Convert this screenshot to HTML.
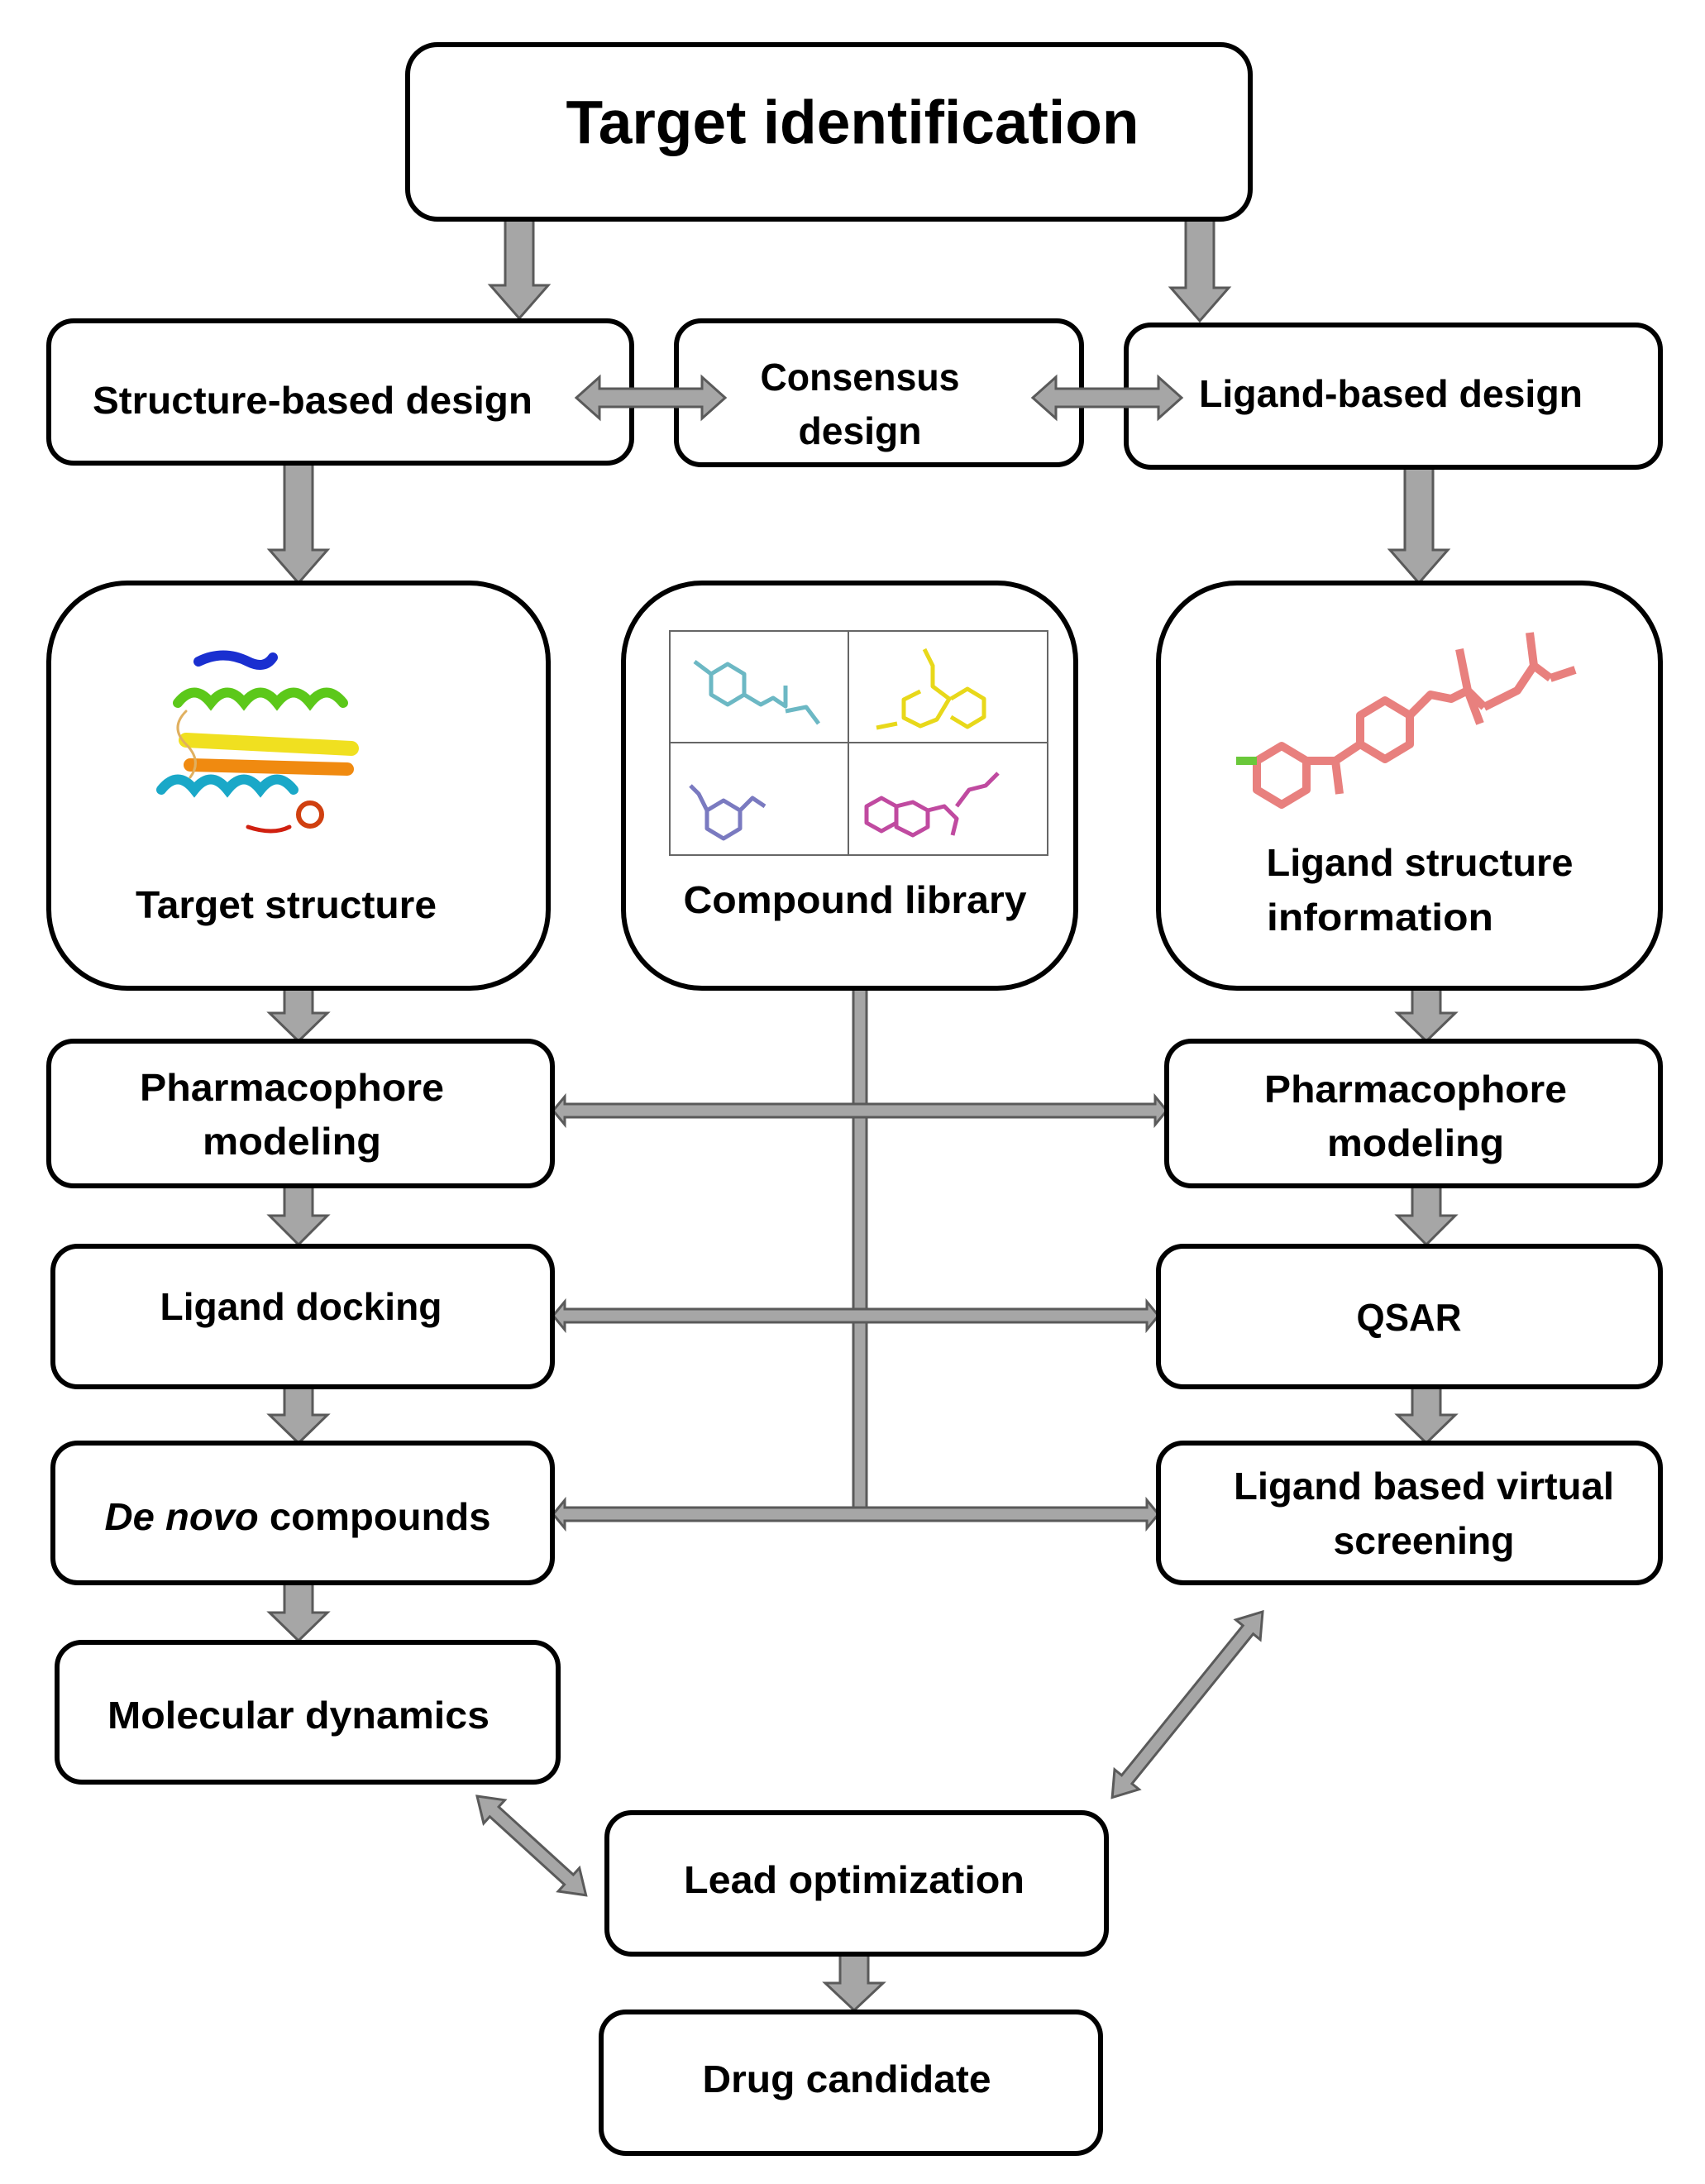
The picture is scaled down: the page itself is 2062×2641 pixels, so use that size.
<!DOCTYPE html>
<html><head><meta charset="utf-8"><style>
html,body{margin:0;padding:0;background:#fff}
svg{display:block}
text{font-family:"Liberation Sans",sans-serif;font-weight:bold;fill:#000}
</style></head><body>
<svg width="2062" height="2641" viewBox="0 0 2062 2641" xmlns="http://www.w3.org/2000/svg">
<g fill="#a6a6a6" stroke="#5a5a5a" stroke-width="3">
<polygon points="611,265 645,265 645,345 663,345 628,385 593,345 611,345"/>
<polygon points="1434,265 1468,265 1468,348 1486,348 1451,388 1416,348 1434,348"/>
<polygon points="344,560 378,560 378,665 396,665 361,705 326,665 344,665"/>
<polygon points="1699,565 1733,565 1733,665 1751,665 1716,705 1681,665 1699,665"/>
<polygon points="344,1195 378,1195 378,1225 396,1225 361,1259 326,1225 344,1225"/>
<polygon points="1708,1195 1742,1195 1742,1225 1760,1225 1725,1259 1690,1225 1708,1225"/>
<polygon points="344,1434 378,1434 378,1470 396,1470 361,1505 326,1470 344,1470"/>
<polygon points="1708,1434 1742,1434 1742,1470 1760,1470 1725,1505 1690,1470 1708,1470"/>
<polygon points="344,1677 378,1677 378,1711 396,1711 361,1745 326,1711 344,1711"/>
<polygon points="1708,1677 1742,1677 1742,1711 1760,1711 1725,1745 1690,1711 1708,1711"/>
<polygon points="344,1914 378,1914 378,1950 396,1950 361,1984 326,1950 344,1950"/>
<polygon points="1016,2363 1050,2363 1050,2398 1068,2398 1033,2431 998,2398 1016,2398"/>
<rect x="1032" y="1195" width="16" height="630"/>
<polygon transform="translate(669,1343)" points="0,0 14,-17 14,-8 728,-8 728,-17 742,0 728,17 728,8 14,8 14,17"/>
<polygon transform="translate(669,1591)" points="0,0 14,-17 14,-8 718,-8 718,-17 732,0 718,17 718,8 14,8 14,17"/>
<polygon transform="translate(669,1831)" points="0,0 14,-17 14,-8 718,-8 718,-17 732,0 718,17 718,8 14,8 14,17"/>
<polygon transform="translate(577,2172) rotate(42.3)" points="0,0 28,-19 28,-8 150,-8 150,-19 178,0 150,19 150,8 28,8 28,19"/>
<polygon transform="translate(1527,1949) rotate(129)" points="0,0 28,-19 28,-8 261,-8 261,-19 289,0 261,19 261,8 28,8 28,19"/>
</g>
<g fill="#fff" stroke="#000" stroke-width="6">
<rect x="493" y="54" width="1019" height="211" rx="36"/>
<rect x="59" y="388" width="705" height="172" rx="30"/>
<rect x="818" y="388" width="490" height="174" rx="30"/>
<rect x="1362" y="393" width="646" height="172" rx="30"/>
<rect x="59" y="705" width="604" height="490" rx="95"/>
<rect x="754" y="705" width="547" height="490" rx="95"/>
<rect x="1401" y="705" width="607" height="490" rx="95"/>
<rect x="59" y="1259" width="609" height="175" rx="30"/>
<rect x="1411" y="1259" width="597" height="175" rx="30"/>
<rect x="64" y="1507" width="604" height="170" rx="30"/>
<rect x="1401" y="1507" width="607" height="170" rx="30"/>
<rect x="64" y="1745" width="604" height="169" rx="30"/>
<rect x="1401" y="1745" width="607" height="169" rx="30"/>
<rect x="69" y="1986" width="606" height="169" rx="30"/>
<rect x="734" y="2192" width="604" height="171" rx="30"/>
<rect x="727" y="2433" width="604" height="171" rx="30"/>
</g>
<g fill="#a6a6a6" stroke="#5a5a5a" stroke-width="3">
<polygon transform="translate(697,481)" points="0,0 28,-25 28,-11 152,-11 152,-25 180,0 152,25 152,11 28,11 28,25"/>
<polygon transform="translate(1249,481)" points="0,0 28,-25 28,-11 152,-11 152,-25 180,0 152,25 152,11 28,11 28,25"/>
</g>
<g fill="none" stroke="#666" stroke-width="2">
<rect x="810" y="763" width="457" height="271"/>
<line x1="1026" y1="763" x2="1026" y2="1034"/>
<line x1="810" y1="898" x2="1267" y2="898"/>
</g>
<g fill="none" stroke-width="5" stroke-linejoin="round">
<path d="M840,800 l20,15 l0,25 l20,12 l20,-12 l0,-25 l-20,-12 l-20,12 M900,840 l20,12 l15,-8 l15,10 l0,-25 M950,860 l25,-5 l15,20" stroke="#6cb8c4"/>
<path d="M1118,785 l10,20 l0,25 l20,15 l-15,25 l-20,8 l-20,-10 l0,-22 l20,-10 M1150,845 l20,-12 l20,12 l0,22 l-20,12 l-20,-12 M1060,880 l25,-5" stroke="#e8d81a"/>
<path d="M855,980 l20,-12 l20,12 l0,22 l-20,12 l-20,-12 z M855,980 l-10,-20 l-10,-10 M895,980 l15,-15 l15,10" stroke="#7a7ac0"/>
<path d="M1048,975 l18,-10 l18,10 l0,20 l-18,10 l-18,-10 z M1084,975 l20,-5 l18,10 l0,20 l-18,10 l-20,-10 z M1122,980 l20,-5 l15,15 l-5,20 M1157,975 l15,-20 l20,-5 l15,-15" stroke="#c04aa0"/>
</g>
<g fill="none" stroke-width="12" stroke-linecap="round">
<path d="M240,800 q30,-15 60,0 q20,10 30,-5" stroke="#1a2fd0"/>
<path d="M215,850 q20,-25 40,0 q20,-25 40,0 q20,-25 40,0 q20,-25 40,0 q20,-25 40,0" stroke="#5cc81a"/>
<path d="M225,895 l200,10" stroke="#f0e020" stroke-width="18"/>
<path d="M230,925 l190,5" stroke="#f08a10" stroke-width="16"/>
<path d="M195,955 q20,-25 40,0 q20,-25 40,0 q20,-25 40,0 q20,-25 40,0" stroke="#1aa8c8"/>
<circle cx="375" cy="985" r="14" stroke="#d04010" stroke-width="6"/>
<path d="M300,1000 q30,10 50,0" stroke="#d02010" stroke-width="5"/>
<path d="M225,860 q-20,20 0,40 q20,20 5,40" stroke="#e0b060" stroke-width="3"/>
</g>
<g fill="none" stroke="#e8807e" stroke-width="10" stroke-linejoin="round">
<path d="M1520,920 l30,-18 l30,18 l0,35 l-30,18 l-30,-18 z"/>
<path d="M1580,920 l35,0 l5,40 M1615,920 l30,-20"/>
<path d="M1645,900 l0,-35 l30,-18 l30,18 l0,35 l-30,18 z"/>
<path d="M1705,865 l25,-25 l25,5 l20,-10 l20,20 M1775,835 l-10,-50 M1775,835 l15,40 M1795,855 l40,-20 l20,-30 l20,15 M1855,805 l-5,-40 M1875,820 l30,-10"/>
</g>
<path d="M1495,920 l25,0" stroke="#6ac83a" stroke-width="10"/>
<text x="1031" y="148" font-size="74" text-anchor="middle" dominant-baseline="central" textLength="693" lengthAdjust="spacingAndGlyphs">Target identification</text>
<g font-size="46" dominant-baseline="central" text-anchor="middle">
<text x="378" y="484" textLength="532" lengthAdjust="spacingAndGlyphs">Structure-based design</text>
<text x="1040" y="456" textLength="241" lengthAdjust="spacingAndGlyphs">Consensus</text>
<text x="1040" y="521" textLength="149" lengthAdjust="spacingAndGlyphs">design</text>
<text x="1682" y="476" textLength="464" lengthAdjust="spacingAndGlyphs">Ligand-based design</text>
<text x="346" y="1094" textLength="364" lengthAdjust="spacingAndGlyphs">Target structure</text>
<text x="1034" y="1088" textLength="415" lengthAdjust="spacingAndGlyphs">Compound library</text>
<text x="1717" y="1043" textLength="371" lengthAdjust="spacingAndGlyphs">Ligand structure</text>
<text x="1669" y="1109" textLength="274" lengthAdjust="spacingAndGlyphs">information</text>
<text x="353" y="1315" textLength="368" lengthAdjust="spacingAndGlyphs">Pharmacophore</text>
<text x="353" y="1380" textLength="216" lengthAdjust="spacingAndGlyphs">modeling</text>
<text x="1712" y="1317" textLength="366" lengthAdjust="spacingAndGlyphs">Pharmacophore</text>
<text x="1712" y="1382" textLength="214" lengthAdjust="spacingAndGlyphs">modeling</text>
<text x="364" y="1580" textLength="341" lengthAdjust="spacingAndGlyphs">Ligand docking</text>
<text x="1704" y="1593" textLength="127" lengthAdjust="spacingAndGlyphs">QSAR</text>
<text x="360" y="1834" textLength="467" lengthAdjust="spacingAndGlyphs"><tspan font-style="italic">De novo</tspan> compounds</text>
<text x="1722" y="1797" textLength="460" lengthAdjust="spacingAndGlyphs">Ligand based virtual</text>
<text x="1722" y="1863" textLength="219" lengthAdjust="spacingAndGlyphs">screening</text>
<text x="361" y="2074" textLength="462" lengthAdjust="spacingAndGlyphs">Molecular dynamics</text>
<text x="1033" y="2273" textLength="412" lengthAdjust="spacingAndGlyphs">Lead optimization</text>
<text x="1024" y="2514" textLength="349" lengthAdjust="spacingAndGlyphs">Drug candidate</text>
</g>
</svg>
</body></html>
